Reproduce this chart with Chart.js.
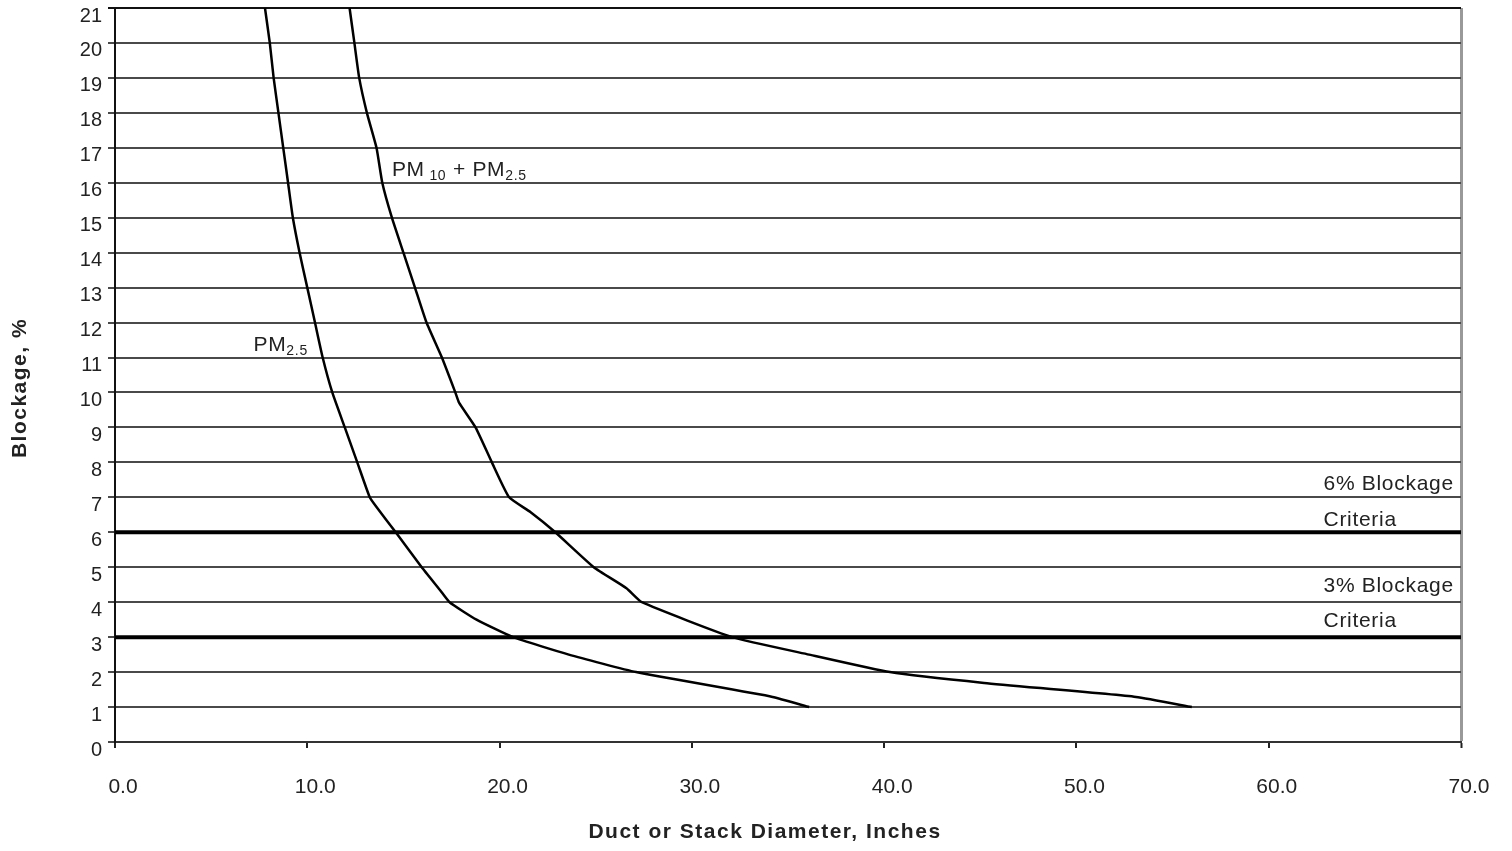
<!DOCTYPE html>
<html>
<head>
<meta charset="utf-8">
<script src="https://cdn.jsdelivr.net/npm/chart.js@4"></script>
<style>
  body { margin: 0; background: #fff; }
  #wrap { width: 1512px; height: 851px; }
</style>
</head>
<body>
<div id="wrap"><canvas id="myChart"></canvas></div>
<script>
// values
const pm25Diameter = [7.8, 8.05, 8.25, 8.5, 8.75, 9.0, 9.25, 9.6, 10.0, 10.4, 10.8, 11.3, 11.95, 12.6, 13.25, 13.6, 14.6, 15.95, 16.9, 17.4, 18.8, 20.7, 23.6, 27.1, 34.2, 36.1];
const pm25Blockage = [21, 20, 19, 18, 17, 16, 15, 14, 13, 12, 11, 10, 9, 8, 7, 6.72, 6, 5, 4.35, 4, 3.5, 3, 2.5, 2, 1.29, 1];

const pm10Diameter = [12.2, 12.45, 12.7, 13.1, 13.6, 13.9, 14.4, 15.0, 15.6, 16.2, 17.0, 17.7, 17.9, 18.75, 19.6, 20.5, 21.6, 22.9, 24.9, 26.6, 27.4, 32.1, 36.1, 40.3, 45.2, 53.1, 56.0];
const pm10Blockage = [21, 20, 19, 18, 17, 16, 15, 14, 13, 12, 11, 10, 9.7, 9, 8, 7, 6.58, 6, 5, 4.4, 4, 3, 2.5, 2, 1.69, 1.29, 1];

const criteriaLevels = [6, 3];
const xTicks = [0, 10, 20, 30, 40, 50, 60, 70];

const xTitle = 'Duct or Stack Diameter, Inches';
const yTitle = 'Blockage, %';

// text notes in data units; parts are [text, isSubscript]
const notes = [
  { x: 7.2, y: 11.2, parts: [['PM', 0], ['2.5', 1]] },
  { x: 14.4, y: 16.2, parts: [['PM', 0], [' 10', 1], [' + PM', 0], ['2.5', 1]] },
  { x: 62.85, y: 7.2, parts: [['6% Blockage', 0]] },
  { x: 62.85, y: 6.18, parts: [['Criteria', 0]] },
  { x: 62.85, y: 4.29, parts: [['3% Blockage', 0]] },
  { x: 62.85, y: 3.29, parts: [['Criteria', 0]] }
];

const font = 'Liberation Sans, Arial, sans-serif';

function pairs(xs, ys) {
  return xs.map((x, i) => ({ x: x, y: ys[i] }));
}

const notePlugin = {
  id: 'notes',
  afterDatasetsDraw(chart) {
    const ctx = chart.ctx;
    const xs = chart.scales.x, ys = chart.scales.y;
    const area = chart.chartArea;
    ctx.save();
    ctx.fillStyle = '#222';
    ctx.textBaseline = 'alphabetic';
    ctx.textAlign = 'left';
    ctx.letterSpacing = '0.7px';
    notes.forEach(n => {
      let px = xs.getPixelForValue(n.x);
      const py = ys.getPixelForValue(n.y);
      n.parts.forEach(p => {
        ctx.font = (p[1] ? '14px ' : '21px ') + font;
        ctx.fillText(p[0], px, py + (p[1] ? 4 : 0));
        px += ctx.measureText(p[0]).width;
      });
    });

    // axis titles
    ctx.font = 'bold 21px ' + font;
    ctx.letterSpacing = '1.5px';
    ctx.textAlign = 'center';
    ctx.textBaseline = 'middle';
    ctx.fillText(xTitle, (area.left + area.right) / 2 - 23, 832);
    ctx.translate(20, (area.top + area.bottom) / 2 + 13);
    ctx.rotate(-Math.PI / 2);
    ctx.fillText(yTitle, 0, 0);
    ctx.restore();
  }
};

const datasets = [
  { data: pairs(pm25Diameter, pm25Blockage) },
  { data: pairs(pm10Diameter, pm10Blockage) }
].map(d => Object.assign(d, {
  showLine: true, borderColor: '#000', borderWidth: 2.5, pointRadius: 0, tension: 0.15, fill: false
}));

criteriaLevels.forEach(v => {
  datasets.push({
    data: [{ x: 0, y: v }, { x: 70, y: v }],
    showLine: true, borderColor: '#000', borderWidth: 4, pointRadius: 0, fill: false
  });
});

new Chart(document.getElementById('myChart'), {
  type: 'scatter',
  data: { datasets: datasets },
  plugins: [notePlugin],
  options: {
    responsive: true,
    maintainAspectRatio: false,
    animation: false,
    layout: { padding: { top: 8, right: 51, left: 0, bottom: 0 } },
    plugins: { legend: { display: false }, tooltip: { enabled: false } },
    scales: {
      x: {
        type: 'linear',
        min: 0, max: 70,
        afterBuildTicks: s => { s.ticks = xTicks.map(v => ({ value: v })); },
        afterFit: s => { s.height = 109; },
        grid: {
          color: c => c.tick.value === 0 ? '#111' : (c.tick.value === 70 ? '#999' : 'rgba(0,0,0,0)'),
          lineWidth: c => c.tick.value === 70 ? 3 : 2,
          tickColor: '#222',
          tickLength: 6,
          tickWidth: 2
        },
        border: { display: true, color: '#333', width: 2 },
        ticks: {
          callback: v => v.toFixed(1),
          font: { family: font, size: 21 },
          color: '#222',
          padding: 27,
          labelOffset: 8,
          maxRotation: 0
        }
      },
      y: {
        min: 0, max: 21,
        afterFit: s => { s.width = 115; s.paddingTop = 0; s.paddingBottom = 0; },
        grid: {
          color: c => c.tick.value === 21 ? '#111' : '#4a4a4a',
          lineWidth: 2,
          tickLength: 7
        },
        border: { display: true, color: '#111', width: 2 },
        ticks: {
          stepSize: 1,
          font: { family: font, size: 20 },
          color: '#222',
          padding: 6,
          labelOffset: 8
        }
      }
    }
  }
});
</script>
</body>
</html>
